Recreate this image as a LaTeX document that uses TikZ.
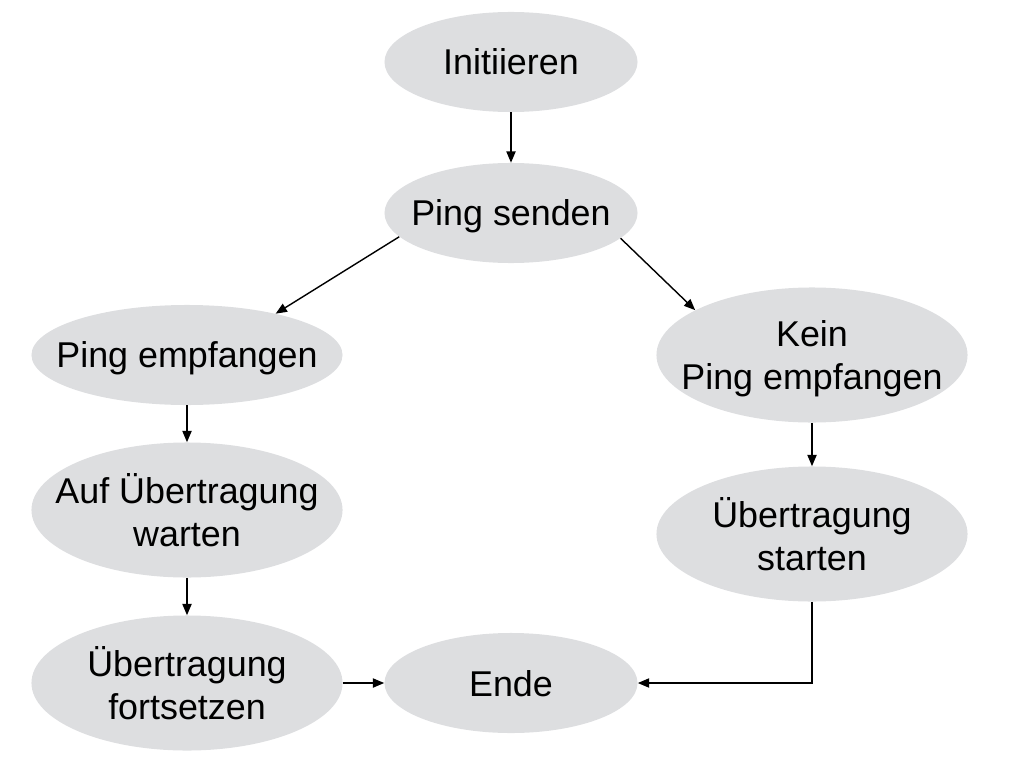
\documentclass[tikz,border=0pt]{standalone}
\usepackage{fontspec}
\setmainfont{Liberation Sans}
\usetikzlibrary{shapes.geometric,arrows.meta}
\definecolor{statefill}{RGB}{221,222,224}
\tikzset{
  state/.style={ellipse, fill=statefill, inner sep=0pt, minimum width=7.775cm, minimum height=3.375cm},
  small/.style={minimum width=6.325cm, minimum height=2.5cm},
  txt/.style={align=center, text depth=0pt, font=\fontsize{25.5}{30}\selectfont},
  flow/.style={-{Triangle[length=8pt,width=6.5pt]}, line width=1pt}
}
\begin{document}
\begin{tikzpicture}[x=0.025cm, y=-0.025cm]
        \useasboundingbox (0,0) rectangle (1024,768);

        \node[state, small, label={[txt]center:Initiieren}] (init) at (511,62) {};
        \node[state, small, label={[txt]center:Ping senden}] (ping) at (511,213) {};
        \node[state, minimum height=2.5cm, label={[txt]center:Ping empfangen}] (pe) at (187,355) {};
        \node[state, label={[txt]center:Kein\\Ping empfangen}] (kp) at (812,355) {};
        \node[state, label={[txt]center:Auf Übertragung\\warten}] (auf) at (187,510) {};
        \node[state, label={[txt]center:Übertragung\\starten}] (start) at (812,534) {};
        \node[state, label={[txt]center:Übertragung\\fortsetzen}] (fort) at (187,683) {};
        \node[state, small, label={[txt]center:Ende}] (ende) at (511,683) {};

        \draw[flow] (init) -- (ping);
        \draw[flow] (ping.192) -- (pe.25);
        \draw[flow] (ping.-13) -- (kp.159);
        \draw[flow] (pe) -- (auf);
        \draw[flow] (auf) -- (fort);
        \draw[flow] (kp) -- (start);
        \draw[flow] (fort) -- (ende);
        \draw[flow] (start) |- (ende);
    \end{tikzpicture}
\end{document}
